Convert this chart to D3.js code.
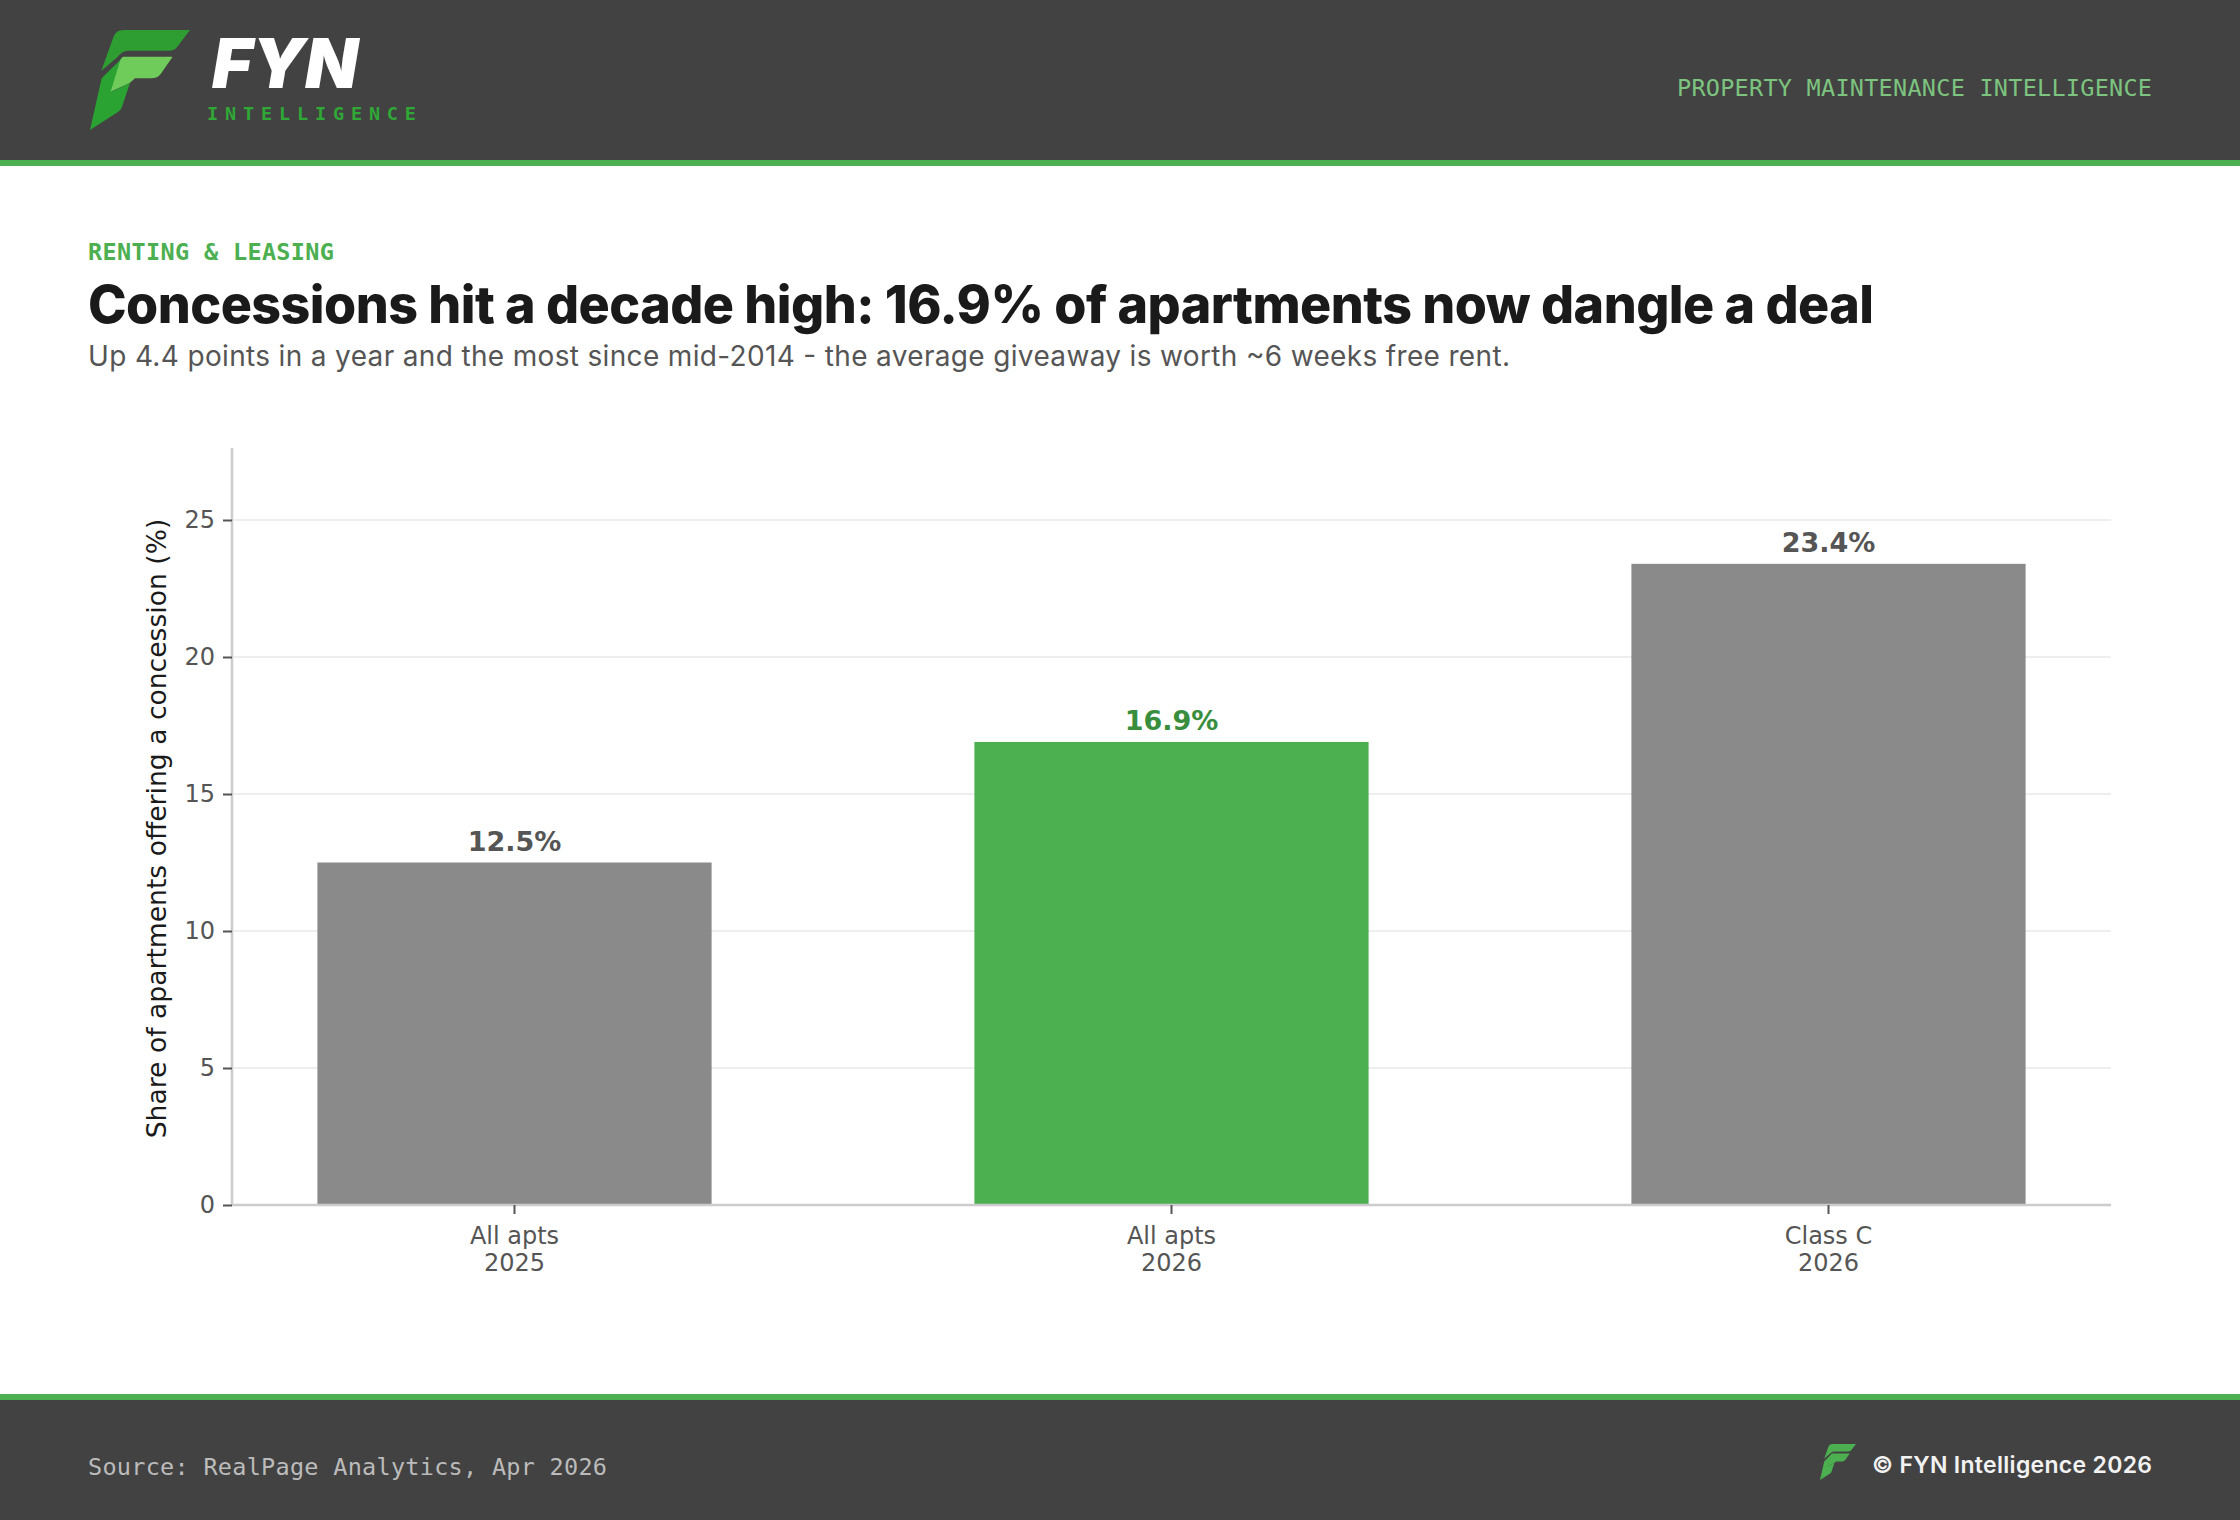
<!DOCTYPE html>
<html><head><meta charset="utf-8">
<script src="https://cdn.jsdelivr.net/npm/d3@7/dist/d3.min.js"></script>
<style>html,body{margin:0;padding:0;background:#fff}svg{display:block}</style>
</head><body><svg id="c" width="2240" height="1520"></svg>
<script>
const categories = ["All apts\n2025", "All apts\n2026", "Class C\n2026"];
const values = [12.5, 16.9, 23.4];
const barColors = ["#8a8a8a", "#4caf50", "#8a8a8a"];
const labelColors = ["#555555", "#388e3c", "#555555"];
const yTicks = [0, 5, 10, 15, 20, 25];
const yMax = 27.66;

const svg = d3.select("#c");
const DARK = "#424242", GREEN = "#4caf50";
const SANS = "'DejaVu Sans'", GROT = "Inter", MONO = "'DejaVu Sans Mono'";

// header / footer
svg.append("rect").attr("width",2240).attr("height",160).attr("fill",DARK);
svg.append("rect").attr("y",160).attr("width",2240).attr("height",6).attr("fill",GREEN);
svg.append("rect").attr("y",1394).attr("width",2240).attr("height",6).attr("fill",GREEN);
svg.append("rect").attr("y",1400).attr("width",2240).attr("height",120).attr("fill",DARK);

function text(s,x,y,size,fill,family,weight,anchor,len){
  const t=svg.append("text").attr("x",x).attr("y",y).attr("font-size",size).attr("fill",fill)
    .attr("font-family",family).attr("font-weight",weight||400).attr("text-anchor",anchor||"start").text(s);
  if(len) t.attr("textLength",len).attr("lengthAdjust","spacing");
  return t;
}
function logo(tx,ty,k,c1,c2,c3){
  const g=svg.append("g").attr("transform",`translate(${tx},${ty}) scale(${k})`);
  g.append("path").attr("fill",c1).attr("d","M190 90H390L352 140Q344 152 325 152H205Q185 153 172 172L124 212L160 112Q168 90 190 90Z");
  g.append("path").attr("fill",c3).attr("d","M190 170L125 235L90 390L175 335Q185 328 188 315L210 248L155 275Z");
  g.append("path").attr("fill",c2).attr("d","M190 170H338L302 222Q292 235 275 235H225L210 248L152 275L178 190Q182 172 190 170Z");
}
logo(60,0,1/3,"#2e9e33","#6fcc5a","#2aa332");
text("FYN",212,88,69,"#ffffff",GROT,900,"start",146).attr("font-style","italic");
text("INTELLIGENCE",207,119.5,18.5,"#2fa836",MONO,700,"start",209);
text("PROPERTY MAINTENANCE INTELLIGENCE",2152,95.5,23.5,"#7cc47f",MONO,400,"end",475);

text("RENTING & LEASING",88,259.5,23.5,GREEN,MONO,700,"start",246);
text("Concessions hit a decade high: 16.9% of apartments now dangle a deal",88,323,52,"#1a1a1a",GROT,800,"start",1786);
text("Up 4.4 points in a year and the most since mid-2014 - the average giveaway is worth ~6 weeks free rent.",88,366,28,"#555555",GROT,400,"start",1422);

text("Source: RealPage Analytics, Apr 2026",88,1474.5,23.5,"#bbbbbb",MONO,400,"start",519);
logo(1820-90*0.12,1444-90*0.12,0.12,GREEN,GREEN,GREEN);
text("© FYN Intelligence 2026",2152,1473,23,"#f2f2f2",GROT,600,"end",280);

// chart
const L=232,R=2111,B=1205,T=448;
const x=d3.scaleBand().domain(categories).range([L,R]).paddingInner(0.4).paddingOuter(0.13);
const y=d3.scaleLinear().domain([0,yMax]).range([B,B-27.4*yMax]);

svg.append("g").selectAll("line").data(yTicks.filter(d=>d>0)).join("line")
  .attr("x1",L).attr("x2",R).attr("y1",d=>y(d)).attr("y2",d=>y(d)).attr("stroke","#eeeeee").attr("stroke-width",2);

svg.append("g").selectAll("rect").data(values).join("rect")
  .attr("x",(d,i)=>x(categories[i])).attr("width",x.bandwidth())
  .attr("y",d=>y(d)).attr("height",d=>B-y(d)).attr("fill",(d,i)=>barColors[i]);

svg.append("g").selectAll("text").data(values).join("text")
  .attr("x",(d,i)=>x(categories[i])+x.bandwidth()/2).attr("y",d=>y(d)-11.5)
  .attr("text-anchor","middle").attr("font-family",SANS).attr("font-weight",700).attr("font-size",27)
  .attr("fill",(d,i)=>labelColors[i]).text(d=>d.toFixed(1)+"%");

const yAxis=svg.append("g").attr("transform",`translate(${L},0)`)
  .call(d3.axisLeft(y).tickValues(yTicks).tickSize(9).tickPadding(8));
const xAxis=svg.append("g").attr("transform",`translate(0,${B})`)
  .call(d3.axisBottom(x).tickSize(9).tickPadding(10).tickFormat(""));
for(const a of [yAxis,xAxis]){
  a.selectAll(".tick line").attr("stroke","#555555").attr("stroke-width",2);
  a.select(".domain").attr("stroke","#cccccc").attr("stroke-width",2.5);
  a.selectAll(".tick text").attr("fill","#555555").attr("font-family",SANS).attr("font-size",24);
}
yAxis.select(".domain").attr("d",`M0,${B}V${T}`);
xAxis.select(".domain").attr("d",`M${L},0H${R}`);
xAxis.selectAll(".tick text").each(function(d){
  const t=d3.select(this).text(null);
  d.split("\n").forEach((s,i)=>t.append("tspan").attr("x",0).attr("y",i?48.5:21.5).attr("dy","0.71em").text(s));
});
svg.append("text").attr("transform",`translate(166,${(B+T)/2+2}) rotate(-90)`).attr("text-anchor","middle")
  .attr("font-family",SANS).attr("font-size",26.6).attr("fill","#1a1a1a").text("Share of apartments offering a concession (%)");
</script></body></html>
